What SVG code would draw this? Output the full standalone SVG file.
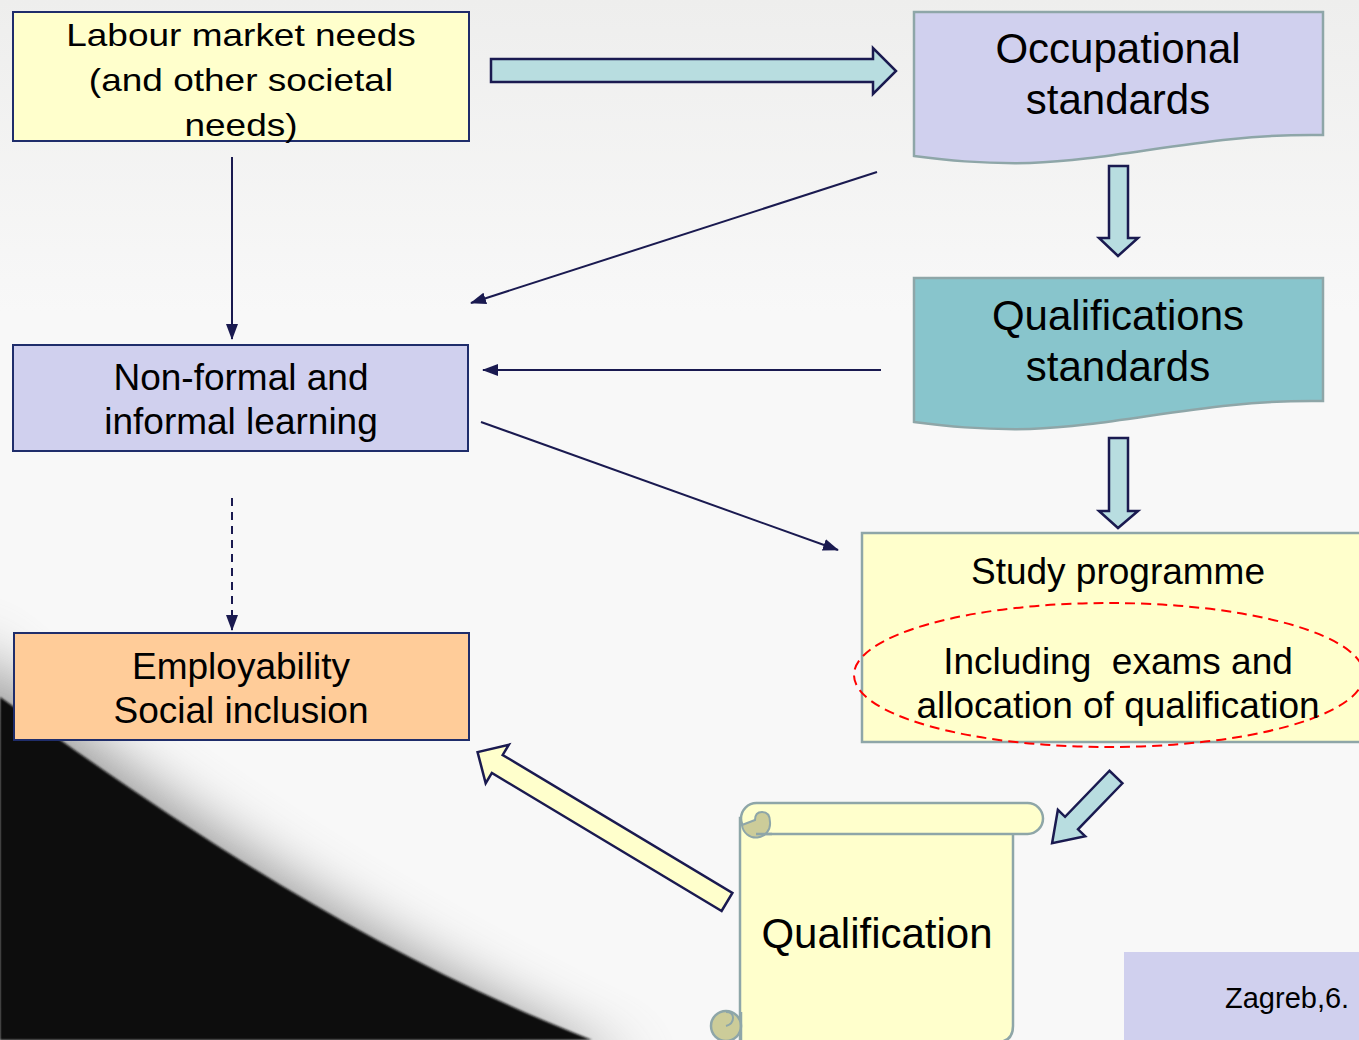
<svg xmlns="http://www.w3.org/2000/svg" width="1359" height="1040" viewBox="0 0 1359 1040">
<style>
  text { font-family: "Liberation Sans", Arial, sans-serif; fill: #000; text-anchor: middle; }
  .t37 { font-size: 37px; }
  .t42 { font-size: 42px; }
  .box-navy { stroke: #1f2d6b; stroke-width: 2; }
  .box-teal { stroke: #8ea6a8; stroke-width: 2.5; }
  .conn { stroke: #1a1a50; stroke-width: 2; fill: none; }
  .block { stroke: #1a1a50; stroke-width: 2.5; stroke-linejoin: miter; }
</style>
<defs>
  <linearGradient id="bgTop" x1="0" y1="0" x2="0" y2="1">
    <stop offset="0" stop-color="#eeeeed"/>
    <stop offset="0.3" stop-color="#f8f8f8"/>
    <stop offset="1" stop-color="#f8f8f8"/>
  </linearGradient>
  <filter id="blurHalo" x="-50%" y="-50%" width="200%" height="200%">
    <feGaussianBlur stdDeviation="28"/>
  </filter>
  <filter id="blurEdge" x="-5%" y="-5%" width="110%" height="110%">
    <feGaussianBlur stdDeviation="1.2"/>
  </filter>
  <marker id="ah" viewBox="0 0 16 12" markerWidth="16" markerHeight="12" refX="15" refY="6" orient="auto" markerUnits="userSpaceOnUse">
    <path d="M0,0 L16,6 L0,12 z" fill="#1a1a50"/>
  </marker>
</defs>

<!-- background -->
<rect x="0" y="0" width="1359" height="1040" fill="url(#bgTop)"/>
<path d="M-40,640 C140,790 360,940 640,1070 L-40,1070 Z" fill="#777" opacity="0.75" filter="url(#blurHalo)"/>
<path d="M0,697 C160,812 360,950 592,1040 L0,1040 Z" fill="#0d0d0d" filter="url(#blurEdge)"/>

<!-- connectors -->
<g id="connectors">
  <line class="conn" x1="232" y1="157" x2="232" y2="339" marker-end="url(#ah)"/>
  <line class="conn" x1="877" y1="172" x2="471" y2="303" marker-end="url(#ah)"/>
  <line class="conn" x1="881" y1="370" x2="483" y2="370" marker-end="url(#ah)"/>
  <line class="conn" x1="481" y1="422" x2="838" y2="550" marker-end="url(#ah)"/>
  <line class="conn" x1="232" y1="498" x2="232" y2="630" stroke-dasharray="8,6" marker-end="url(#ah)"/>
  <!-- block arrows -->
  <polygon class="block" fill="#b8dde0" points="491,59 873,59 873,48 896,71 873,94 873,82 491,82"/>
  <polygon class="block" fill="#b8dde0" points="1109,166 1128,166 1128,238 1138,238 1118,256 1099,238 1109,238"/>
  <polygon class="block" fill="#b8dde0" points="1109,438 1128,438 1128,511 1138,511 1118,528 1099,511 1109,511"/>
  <polygon class="block" fill="#b8dde0" transform="translate(1116,777) rotate(134)" points="0,-9 64,-9 64,-19 92,0 64,19 64,9 0,9"/>
  <polygon class="block" fill="#ffffcc" transform="translate(727,902) rotate(211)" points="0,-10.5 268,-10.5 268,-22.5 291,0 268,22.5 268,10.5 0,10.5"/>
</g>

<!-- nodes -->
<g id="labour">
  <rect x="13" y="12" width="456" height="129" fill="#ffffcc" class="box-navy"/>
  <text class="t37" transform="translate(241,46) scale(1,0.86)">Labour market needs</text>
  <text class="t37" transform="translate(241,91) scale(1,0.86)">(and other societal</text>
  <text class="t37" transform="translate(241,136) scale(1,0.86)">needs)</text>
</g>

<g id="occupational">
  <path d="M914,12 H1323 V135 C1210,133 1120,160 1030,163 C980,164 945,160 914,156 Z" fill="#d0d0ee" class="box-teal"/>
  <text class="t42" x="1118" y="63">Occupational</text>
  <text class="t42" x="1118" y="114">standards</text>
</g>

<g id="qualstandards">
  <path d="M914,278 H1323 V401 C1210,399 1120,426 1030,429 C980,430 945,426 914,422 Z" fill="#88c5cc" class="box-teal"/>
  <text class="t42" x="1118" y="330">Qualifications</text>
  <text class="t42" x="1118" y="381">standards</text>
</g>

<g id="nonformal">
  <rect x="13" y="345" width="455" height="106" fill="#d0d0ee" class="box-navy"/>
  <text class="t37" x="241" y="390">Non-formal and</text>
  <text class="t37" x="241" y="434">informal learning</text>
</g>

<g id="employability">
  <rect x="14" y="633" width="455" height="107" fill="#ffcc99" class="box-navy"/>
  <text class="t37" x="241" y="679">Employability</text>
  <text class="t37" x="241" y="723">Social inclusion</text>
</g>

<g id="study">
  <rect x="862" y="533" width="510" height="209" fill="#ffffcc" class="box-teal"/>
  <text class="t37" x="1118" y="584">Study programme</text>
  <ellipse cx="1109" cy="675" rx="255" ry="72" fill="none" stroke="#ff0000" stroke-width="2" stroke-dasharray="10,6"/>
  <text class="t37" x="1118" y="674" xml:space="preserve">Including  exams and</text>
  <text class="t37" x="1118" y="718">allocation of qualification</text>
</g>

<g id="qualification">
  <path d="M740,818 H1013 V1026 Q1013,1042 997,1042 H740 Z" fill="#ffffcc" class="box-teal"/>
  <rect x="741" y="803" width="302" height="31" rx="15.5" fill="#ffffcc" class="box-teal"/>
  <path d="M742,825 A14,14 0 0 0 770,822 Q770,812 762,812 Q755,812 755,820 Z" fill="#cccc99" stroke="#8ea6a8" stroke-width="2"/>
  <line x1="756" y1="834" x2="772" y2="834" stroke="#8ea6a8" stroke-width="2.5"/>
  <circle cx="726" cy="1026" r="15" fill="#cccc99" stroke="#8ea6a8" stroke-width="2.5"/>
  <path d="M726,1026 Q733,1024 733,1018 Q733,1012 726,1012" fill="none" stroke="#8ea6a8" stroke-width="2"/>
  <path d="M741,1012 V1040" stroke="#8ea6a8" stroke-width="2.5"/>
  <text class="t42" x="877" y="948">Qualification</text>
</g>

<g id="zagreb">
  <rect x="1124" y="952" width="240" height="92" fill="#d0d0ee"/>
  <text x="1225" y="1008" style="font-size:29px;text-anchor:start">Zagreb,6.</text>
</g>
</svg>
